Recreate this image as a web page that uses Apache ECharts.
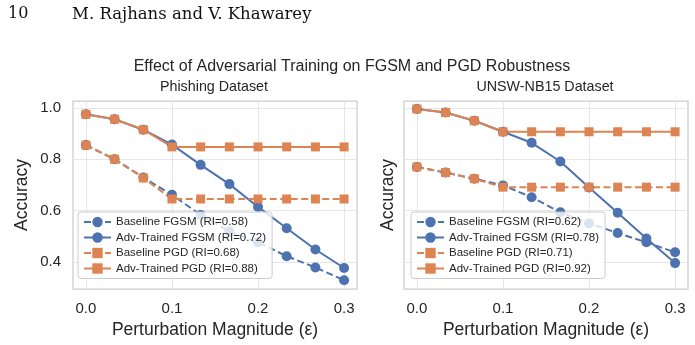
<!DOCTYPE html>
<html>
<head>
<meta charset="utf-8">
<script src="https://cdn.jsdelivr.net/npm/echarts@6/dist/echarts.min.js"></script>
<style>
  html, body { margin: 0; padding: 0; background: #fff; }
  #chart { width: 695px; height: 345px; }
</style>
</head>
<body>
<div id="chart"></div>
<script>
// perturbation steps (epsilon)
var eps = [0, 0.0333, 0.0667, 0.1, 0.1333, 0.1667, 0.2, 0.2333, 0.2667, 0.3];
var xTicks = [0, 0.1, 0.2, 0.3];
var yTicks = [0.4, 0.6, 0.8, 1.0];

// Phishing dataset
var phishBaseFgsm = [0.855, 0.800, 0.729, 0.661, 0.583, 0.518, 0.476, 0.422, 0.378, 0.328];
var phishAdvFgsm  = [0.975, 0.956, 0.915, 0.857, 0.778, 0.703, 0.614, 0.531, 0.448, 0.376];
var phishBasePgd  = [0.855, 0.800, 0.727, 0.645, 0.645, 0.645, 0.645, 0.645, 0.645, 0.645];
var phishAdvPgd   = [0.975, 0.956, 0.915, 0.848, 0.848, 0.848, 0.848, 0.848, 0.848, 0.848];

// UNSW-NB15 dataset
var unswBaseFgsm = [0.770, 0.748, 0.724, 0.698, 0.652, 0.593, 0.550, 0.512, 0.476, 0.437];
var unswAdvFgsm  = [0.996, 0.982, 0.950, 0.907, 0.864, 0.791, 0.690, 0.591, 0.491, 0.395];
var unswBasePgd  = [0.770, 0.748, 0.724, 0.691, 0.691, 0.691, 0.691, 0.691, 0.691, 0.691];
var unswAdvPgd   = [0.996, 0.982, 0.950, 0.907, 0.907, 0.907, 0.907, 0.907, 0.907, 0.907];

var phishNames = ['Baseline FGSM (RI=0.58)', 'Adv-Trained FGSM (RI=0.72)', 'Baseline PGD (RI=0.68)', 'Adv-Trained PGD (RI=0.88)'];
var unswNames  = ['Baseline FGSM (RI=0.62)', 'Adv-Trained FGSM (RI=0.78)', 'Baseline PGD (RI=0.71)', 'Adv-Trained PGD (RI=0.92)'];

var BLUE = '#4c72b0';
var ORANGE = '#dd8452';
var TXT = '#262626';
var FONT = '"Liberation Sans", Arial, sans-serif';
var SERIF = '"DejaVu Serif", serif';

function pairs(vals) {
    return eps.map(function (e, i) { return [e, vals[i]]; });
}

function mkSeries(name, vals, idx, color, symbol, dashed) {
    return {
        name: name,
        type: 'line',
        xAxisIndex: idx,
        yAxisIndex: idx,
        data: pairs(vals),
        symbol: symbol,
        symbolSize: symbol === 'circle' ? 10 : 9,
        color: color,
        itemStyle: { color: color, borderWidth: 0 },
        lineStyle: { color: color, width: 2, type: dashed ? [7, 3.5] : 'solid' },
        emphasis: { disabled: true },
        animation: false
    };
}

function mkX(idx) {
    return {
        type: 'value',
        gridIndex: idx,
        min: -0.015,
        max: 0.315,
        axisLine: { show: false },
        axisTick: { show: false, customValues: xTicks },
        axisLabel: {
            customValues: xTicks,
            color: TXT, fontSize: 15, fontFamily: FONT, margin: 12,
            formatter: function (v) { return v.toFixed(1); }
        },
        splitLine: { show: true, lineStyle: { color: '#e6e6e6', width: 1 } },
        name: 'Perturbation Magnitude (\u03b5)',
        nameLocation: 'middle',
        nameGap: 32,
        nameTextStyle: { color: TXT, fontSize: 17.5, fontFamily: FONT }
    };
}

function mkY(idx, showLabels, gap) {
    return {
        type: 'value',
        gridIndex: idx,
        min: 0.294,
        max: 1.027,
        axisLine: { show: false },
        axisTick: { show: false, customValues: yTicks },
        axisLabel: {
            show: showLabels,
            customValues: yTicks,
            color: TXT, fontSize: 15, fontFamily: FONT, margin: 12,
            formatter: function (v) { return v.toFixed(1); }
        },
        splitLine: { show: true, lineStyle: { color: '#e6e6e6', width: 1 } },
        name: 'Accuracy',
        nameLocation: 'middle',
        nameGap: gap,
        nameTextStyle: { color: TXT, fontSize: 17.5, fontFamily: FONT }
    };
}

function mkLegend(names, left) {
    return {
        data: names,
        orient: 'vertical',
        left: left,
        top: 212,
        itemWidth: 27,
        itemHeight: 13,
        itemGap: 3.5,
        padding: [4, 6, 4, 5],
        backgroundColor: 'rgba(255,255,255,0.8)',
        borderColor: '#cccccc',
        borderWidth: 1,
        borderRadius: 3,
        selectedMode: false,
        textStyle: { color: TXT, fontSize: 11.5, fontFamily: FONT }
    };
}

var chart = echarts.init(document.getElementById('chart'), null, { renderer: 'canvas' });

var option = {
    backgroundColor: '#ffffff',
    animation: false,
    title: [
        { text: '10', left: 8, top: 6, padding: 0, textStyle: { fontFamily: SERIF, fontWeight: 'normal', fontSize: 16, color: '#111' } },
        { text: 'M. Rajhans and V. Khawarey', left: 72, top: 6, padding: 0, textStyle: { fontFamily: SERIF, fontWeight: 'normal', fontSize: 16.5, color: '#111' } },
        { text: 'Effect of Adversarial Training on FGSM and PGD Robustness', left: 352, top: 59, padding: 0, textAlign: 'center', textStyle: { fontFamily: FONT, fontWeight: 'normal', fontSize: 16, color: TXT } },
        { text: 'Phishing Dataset', left: 214, top: 80, padding: 0, textAlign: 'center', textStyle: { fontFamily: FONT, fontWeight: 'normal', fontSize: 14.3, color: TXT } },
        { text: 'UNSW-NB15 Dataset', left: 545, top: 80, padding: 0, textAlign: 'center', textStyle: { fontFamily: FONT, fontWeight: 'normal', fontSize: 14.3, color: TXT } }
    ],
    grid: [
        { left: 73, top: 101, width: 284, height: 188, show: true, borderColor: '#cccccc', borderWidth: 1.25, backgroundColor: 'transparent' },
        { left: 404, top: 101, width: 284, height: 188, show: true, borderColor: '#cccccc', borderWidth: 1.25, backgroundColor: 'transparent' }
    ],
    xAxis: [mkX(0), mkX(1)],
    yAxis: [mkY(0, true, 42), mkY(1, false, 7)],
    legend: [mkLegend(phishNames, 78), mkLegend(unswNames, 411)],
    series: [
        mkSeries(phishNames[0], phishBaseFgsm, 0, BLUE, 'circle', true),
        mkSeries(phishNames[1], phishAdvFgsm, 0, BLUE, 'circle', false),
        mkSeries(phishNames[2], phishBasePgd, 0, ORANGE, 'rect', true),
        mkSeries(phishNames[3], phishAdvPgd, 0, ORANGE, 'rect', false),
        mkSeries(unswNames[0], unswBaseFgsm, 1, BLUE, 'circle', true),
        mkSeries(unswNames[1], unswAdvFgsm, 1, BLUE, 'circle', false),
        mkSeries(unswNames[2], unswBasePgd, 1, ORANGE, 'rect', true),
        mkSeries(unswNames[3], unswAdvPgd, 1, ORANGE, 'rect', false)
    ]
};

chart.setOption(option);
window.addEventListener('resize', function () {
    chart.resize();
});
</script>
</body>
</html>
